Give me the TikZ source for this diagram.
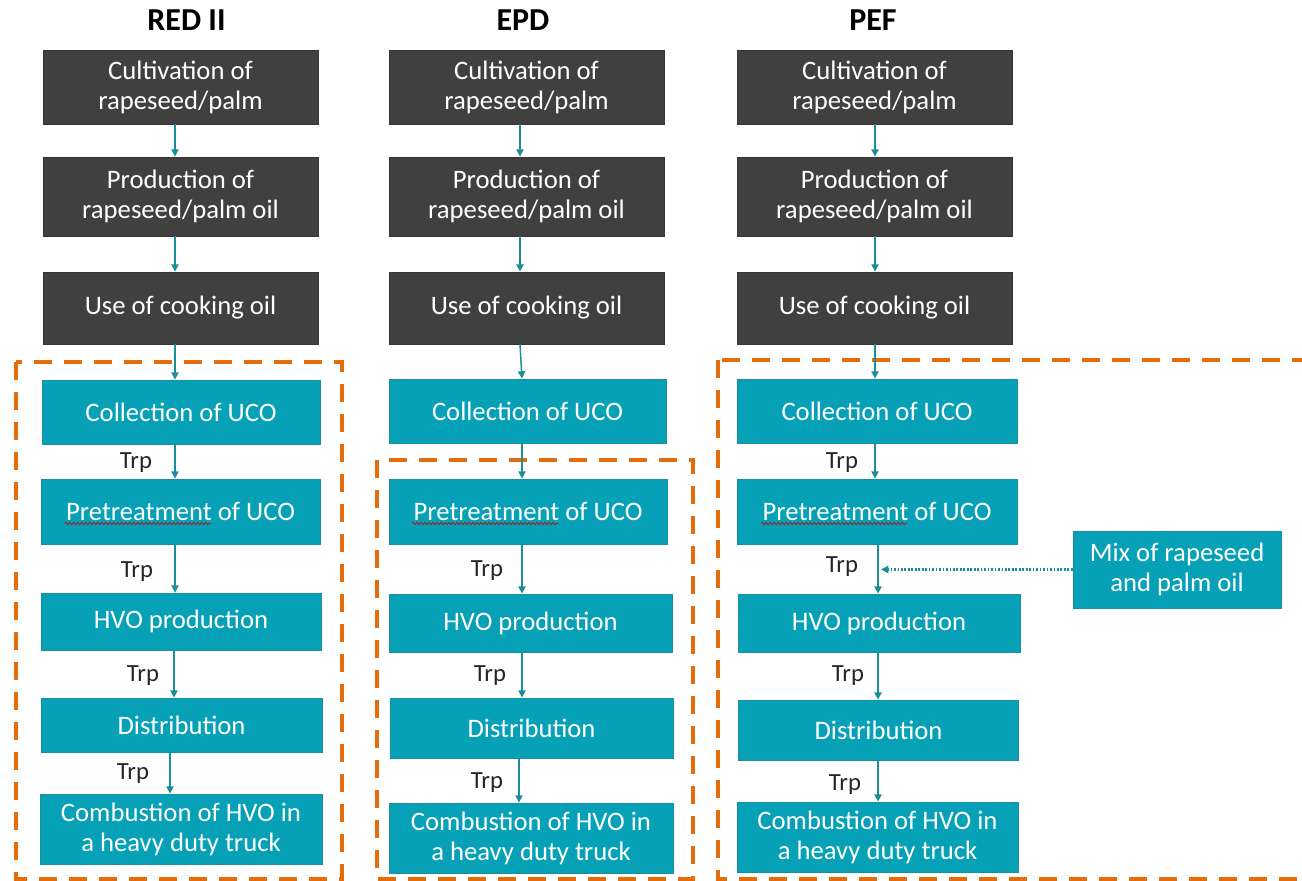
\documentclass[tikz,border=0pt]{standalone}
\usepackage{fontspec}
\setmainfont{Carlito}
\usetikzlibrary{arrows.meta,decorations.pathmorphing,calc}
\definecolor{tealbox}{HTML}{06A1B7}
\definecolor{tealline}{HTML}{1A8F98}
\definecolor{tealedge}{HTML}{1B8EA0}
\definecolor{darkbox}{HTML}{404040}
\definecolor{orangedash}{HTML}{E46C0A}
\tikzset{
  bx/.style 2 args={minimum width=#1*0.75pt, minimum height=#2*0.75pt},
  base/.style={rectangle, inner sep=2pt, align=center, text=white,
    font=\fontsize{20}{22.5}\selectfont, line width=0.6pt},
  dark/.style={base, fill=darkbox, draw=darkbox!85!black},
  tbox/.style={base, fill=tealbox, draw=tealedge},
  arr/.style={draw=tealline, line width=1.1pt, -{Triangle[length=5.5pt,width=5.5pt]}},
  mixarr/.style={arr, line width=1.6pt, dash pattern=on 1.3pt off 1.3pt},
  trp/.style={font=\fontsize{18.5}{20}\selectfont, text=black!85, inner sep=0pt},
  head/.style={font=\fontsize{24}{26}\selectfont\bfseries, text=black, inner sep=0pt},
  region/.style={draw=orangedash, line width=3.2pt, dash pattern=on 13.5pt off 9pt},
  squig/.style={draw=red!80!black, line width=0.5pt,
    decorate, decoration={snake, amplitude=0.9pt, segment length=3pt}}
}
\begin{document}
\begin{tikzpicture}[x=0.75pt,y=-0.75pt]
\clip (0,0) rectangle (1302,881);
\fill[white] (0,0) rectangle (1302,881);

% headings
\node[head] (h1) at (186.5,20) {RED II};
\node[head] (h2) at (523,20) {EPD};
\node[head] (h3) at (873,20) {PEF};

% dashed regions
\draw[region] (16,362) rectangle (342,879);
\draw[region] (377,460) rectangle (693,879);
\draw[region] (718,360) rectangle (1320,879);

% ---------- column 1 (RED II)
\node[dark, bx={275}{74}] (a1) at (180.5,87) {Cultivation of\\rapeseed/palm};
\node[dark, bx={275}{79}] (a2) at (180.5,196.5) {Production of\\rapeseed/palm oil};
\node[dark, bx={275}{72}] (a3) at (180.5,308) {Use of cooking oil};
\node[tbox, bx={278}{64}] (a4) at (181,412) {Collection of UCO};
\node[tbox, bx={279}{65}] (a5) at (180.5,511.5) {Pretreatment of UCO};
\node[tbox, bx={280}{57}] (a6) at (181,621.5) {HVO production};
\node[tbox, bx={281}{54}] (a7) at (181.5,725) {Distribution};
\node[tbox, bx={282}{70}] (a8) at (181,829) {Combustion of HVO in\\a heavy duty truck};

% ---------- column 2 (EPD)
\node[dark, bx={275}{74}] (b1) at (526.5,87) {Cultivation of\\rapeseed/palm};
\node[dark, bx={275}{79}] (b2) at (526.5,196.5) {Production of\\rapeseed/palm oil};
\node[dark, bx={275}{72}] (b3) at (526.5,308) {Use of cooking oil};
\node[tbox, bx={277}{64}] (b4) at (527.5,411) {Collection of UCO};
\node[tbox, bx={278}{65}] (b5) at (528,511.5) {Pretreatment of UCO};
\node[tbox, bx={283}{58}] (b6) at (530.5,623) {HVO production};
\node[tbox, bx={283}{60}] (b7) at (531.5,728) {Distribution};
\node[tbox, bx={284}{70}] (b8) at (531,838) {Combustion of HVO in\\a heavy duty truck};

% ---------- column 3 (PEF)
\node[dark, bx={275}{74}] (c1) at (874.5,87) {Cultivation of\\rapeseed/palm};
\node[dark, bx={275}{79}] (c2) at (874.5,196.5) {Production of\\rapeseed/palm oil};
\node[dark, bx={275}{72}] (c3) at (874.5,308) {Use of cooking oil};
\node[tbox, bx={280}{64}] (c4) at (877,411) {Collection of UCO};
\node[tbox, bx={280}{65}] (c5) at (877,511.5) {Pretreatment of UCO};
\node[tbox, bx={282}{58}] (c6) at (879,623) {HVO production};
\node[tbox, bx={280}{60}] (c7) at (878.5,730) {Distribution};
\node[tbox, bx={281}{70}] (c8) at (877.5,837) {Combustion of HVO in\\a heavy duty truck};
\node[tbox, bx={208}{77}] (mix) at (1177,569.5) {Mix of rapeseed\\and palm oil};

% spell-check squiggles
\draw[squig] ($(a5.center)+(-116,12)$) -- ($(a5.center)+(30,12)$);
\draw[squig] ($(b5.center)+(-116,12)$) -- ($(b5.center)+(30,12)$);
\draw[squig] ($(c5.center)+(-116,12)$) -- ($(c5.center)+(30,12)$);

% arrow x positions
\coordinate (xa) at (175,0);
\coordinate (xa2) at (174,0);
\coordinate (xa3) at (170,0);
\coordinate (xb) at (520,0);
\coordinate (xb2) at (522,0);
\coordinate (xb3) at (519,0);
\coordinate (xc) at (875,0);
\coordinate (xc2) at (878,0);

% arrows column 1
\draw[arr] (a1.south -| xa) -- (a2.north -| xa);
\draw[arr] (a2.south -| xa) -- (a3.north -| xa);
\draw[arr] (a3.south -| xa) -- (a4.north -| xa);
\draw[arr] (a4.south -| xa) -- (a5.north -| xa);
\draw[arr] (a5.south -| xa) -- (a6.north -| xa);
\draw[arr] (a6.south -| xa2) -- (a7.north -| xa2);
\draw[arr] (a7.south -| xa3) -- (a8.north -| xa3);

% arrows column 2
\draw[arr] (b1.south -| xb) -- (b2.north -| xb);
\draw[arr] (b2.south -| xb) -- (b3.north -| xb);
\draw[arr] (b3.south -| xb) -- (b4.north -| xb2);
\draw[arr] (b4.south -| xb2) -- (b5.north -| xb2);
\draw[arr] (b5.south -| xb2) -- (b6.north -| xb2);
\draw[arr] (b6.south -| xb2) -- (b7.north -| xb2);
\draw[arr] (b7.south -| xb3) -- (b8.north -| xb3);

% arrows column 3
\draw[arr] (c1.south -| xc) -- (c2.north -| xc);
\draw[arr] (c2.south -| xc) -- (c3.north -| xc);
\draw[arr] (c3.south -| xc) -- (c4.north -| xc);
\draw[arr] (c4.south -| xc) -- (c5.north -| xc);
\draw[arr] (c5.south -| xc2) -- (c6.north -| xc2);
\draw[arr] (c6.south -| xc2) -- (c7.north -| xc2);
\draw[arr] (c7.south -| xc2) -- (c8.north -| xc2);

% mix input
\coordinate (mixend) at (881,0);
\draw[mixarr] (mix.west) -- (mix.west -| mixend);

% Trp labels
\node[trp] (t1) at (136,463) {Trp};
\node[trp] (t2) at (137,572) {Trp};
\node[trp] (t3) at (143,676) {Trp};
\node[trp] (t4) at (133,774) {Trp};
\node[trp] (t5) at (487,571) {Trp};
\node[trp] (t6) at (490,676) {Trp};
\node[trp] (t7) at (487,783) {Trp};
\node[trp] (t8) at (842,463) {Trp};
\node[trp] (t9) at (842,567) {Trp};
\node[trp] (t10) at (848,676) {Trp};
\node[trp] (t11) at (845,785) {Trp};
\end{tikzpicture}
\end{document}
